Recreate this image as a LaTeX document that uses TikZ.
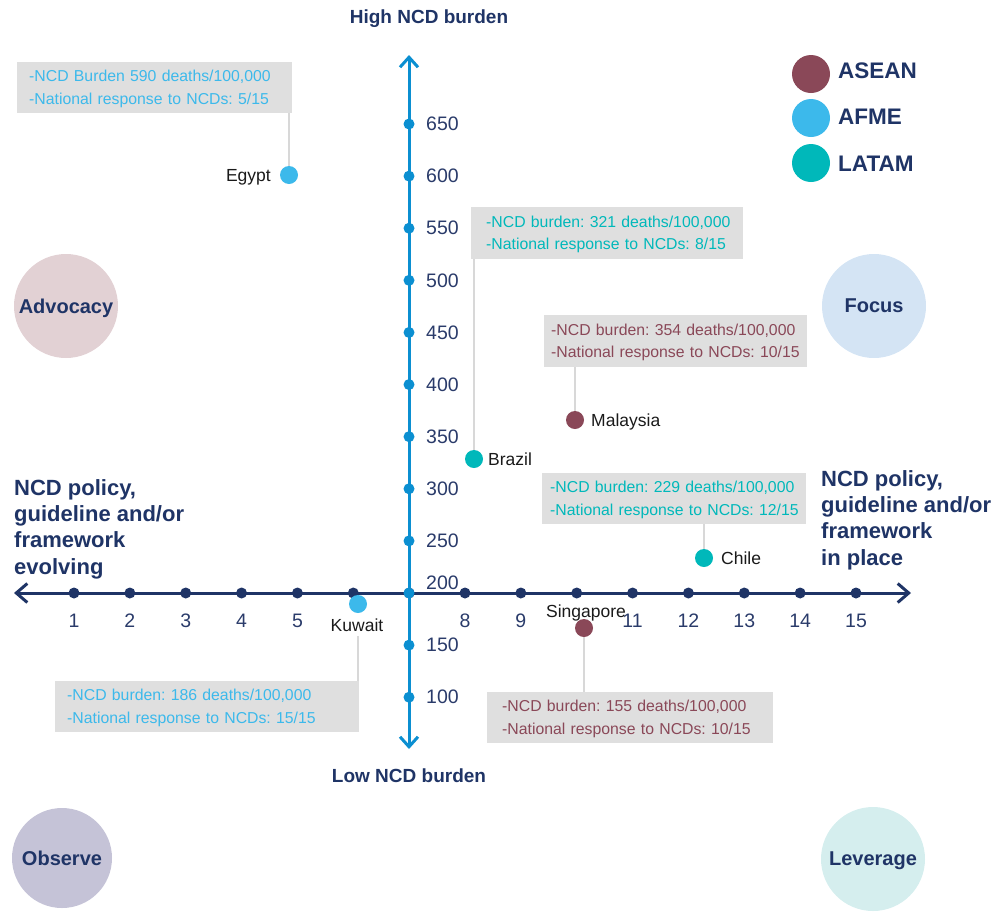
\documentclass[tikz,border=0pt]{standalone}
\usepackage{fontspec}
\setmainfont{Liberation Sans}
\usetikzlibrary{arrows.meta,calc}
\definecolor{navy}{HTML}{1F3466}
\definecolor{numcol}{HTML}{2A3B6A}
\definecolor{axisblue}{HTML}{0B8FD1}
\definecolor{asean}{HTML}{8A4858}
\definecolor{afme}{HTML}{3CB9EB}
\definecolor{latam}{HTML}{00B8BA}
\definecolor{boxgray}{HTML}{DFDFDF}
\definecolor{leadgray}{HTML}{D8D8D8}
\definecolor{cadv}{HTML}{E2D1D4}
\definecolor{cfoc}{HTML}{D4E4F4}
\definecolor{cobs}{HTML}{C5C3D7}
\definecolor{clev}{HTML}{D5EEEE}
\definecolor{ctext}{HTML}{1A1A1A}
\newcommand{\setfs}[2]{\fontsize{#1pt}{#2pt}\selectfont}
\frenchspacing
\begin{document}
\begin{tikzpicture}[x=1pt,y=-1pt,
  tickdot/.style={circle,fill=navy,inner sep=0,minimum size=11},
  vdot/.style={circle,fill=axisblue,inner sep=0,minimum size=11},
  xnum/.style={text=numcol,font={\setfs{19.5}{22}},inner sep=0},
  ynum/.style={text=numcol,font={\setfs{19.5}{22}},inner sep=0,anchor=west},
  hlabel/.style={text=navy,font={\bfseries\setfs{19}{22}},inner sep=0},
  sidelabel/.style={text=navy,font={\bfseries\setfs{22}{26.3}},inner sep=0,align=left,anchor=north west},
  quad/.style={circle,inner sep=0,minimum size=104,text=navy,text depth=0pt,font={\bfseries\setfs{20}{24}}},
  legdot/.style={circle,inner sep=0,minimum size=38},
  legtext/.style={text=navy,font={\bfseries\setfs{22.5}{26}},inner sep=0,anchor=west},
  cdot/.style={circle,inner sep=0,minimum size=18},
  clabel/.style={text=ctext,font={\setfs{17.5}{20}},inner sep=0},
  infobox/.style={fill=boxgray,anchor=north west,inner ysep=0,align=left,font={\setfs{15.8}{22.7}}},
  leader/.style={draw=leadgray,line width=2.5},
  haxis/.style={draw=navy,line width=3,{Straight Barb[length=11pt,width=19pt]}-{Straight Barb[length=11pt,width=19pt]}},
  vaxis/.style={draw=axisblue,line width=3,{Straight Barb[length=10pt,width=18pt]}-{Straight Barb[length=10pt,width=18pt]}}
]
\useasboundingbox (0,0) rectangle (1001,911);

% titles
\node[hlabel] (high) at (429,19) {High NCD burden};
\node[hlabel] (low) at (409,776) {Low NCD burden};

% quadrant circles
\node[quad,fill=cadv] (adv) at (66,306) {Advocacy};
\node[quad,fill=cfoc] (foc) at (874,306) {Focus};
\node[quad,fill=cobs,minimum size=100] (obs) at (62,858) {Observe};
\node[quad,fill=clev] (lev) at (873,859) {Leverage};

% legend
\node[legdot,fill=asean] (lg1) at (811,74) {};
\node[legdot,fill=afme] (lg2) at (811,118) {};
\node[legdot,fill=latam] (lg3) at (811,163) {};
\node[legtext] at (838,71) {ASEAN};
\node[legtext] at (838,117) {AFME};
\node[legtext] at (838,164) {LATAM};

% side labels
\node[sidelabel] (leftlab) at (14,479) {NCD policy,\\guideline and/or\\framework\\evolving};
\node[sidelabel] (rightlab) at (821,470) {NCD policy,\\guideline and/or\\framework\\in place};

% horizontal axis
\coordinate (xl) at (14,593);
\coordinate (xr) at (911,593);
\draw[haxis] (xl) -- (xr);
\foreach \i in {1,...,15} {
  \node[tickdot] (t\i) at ({74+(\i-1)*55.857},593) {};
}
\foreach \i in {1,2,3,4,5,8,9,11,12,13,14,15} {
  \node[xnum] at ({74+(\i-1)*55.857},621) {\i};
}

% vertical axis
\coordinate (vtop) at (409,55);
\coordinate (vbot) at (409,749);
\draw[vaxis] (vbot) -- (vtop);
\node[vdot] (v200) at (409,593) {};
\foreach \v in {100,150,250,300,...,650} {
  \pgfmathsetmacro{\yy}{593-(\v-200)*1.04222}
  \node[vdot] (v\v) at (409,\yy) {};
  \node[ynum] at (426,\yy) {\v};
}
\node[ynum] at (426,583) {200};

% info boxes
\node[infobox,text=afme,inner xsep=12,text width=251,minimum height=51] (egbox) at (17,62)
  {\mbox{\rule{0pt}{14pt}-NCD Burden 590 deaths/100,000}\\\mbox{-National response to NCDs: 5/15}};
\node[infobox,text=latam,inner xsep=15,text width=242,minimum height=52] (brbox) at (471,207)
  {\mbox{\rule{0pt}{14pt}-NCD burden: 321 deaths/100,000}\\\mbox{-National response to NCDs: 8/15}};
\node[infobox,text=asean,inner xsep=7,text width=249,minimum height=52] (mybox) at (544,315)
  {\mbox{\rule{0pt}{14pt}-NCD burden: 354 deaths/100,000}\\\mbox{-National response to NCDs: 10/15}};
\node[infobox,text=latam,inner xsep=8,text width=248,minimum height=51] (clbox) at (542,473)
  {\mbox{\rule{0pt}{14pt}-NCD burden: 229 deaths/100,000}\\\mbox{-National response to NCDs: 12/15}};
\node[infobox,text=asean,inner xsep=15,text width=256,minimum height=51] (sgbox) at (487,692)
  {\mbox{\rule{0pt}{14pt}-NCD burden: 155 deaths/100,000}\\\mbox{-National response to NCDs: 10/15}};
\node[infobox,text=afme,inner xsep=12,text width=280,minimum height=51] (kwbox) at (55,681)
  {\mbox{\rule{0pt}{14pt}-NCD burden: 186 deaths/100,000}\\\mbox{-National response to NCDs: 15/15}};

% country dots
\node[cdot,fill=afme] (eg) at (289,175) {};
\node[cdot,fill=latam] (br) at (474,459) {};
\node[cdot,fill=asean] (my) at (575,420) {};
\node[cdot,fill=latam] (cl) at (704,558) {};
\node[cdot,fill=asean] (sg) at (584,628) {};
\node[cdot,fill=afme] (kw) at (358,604) {};

% country labels
\node[clabel,anchor=base east] (eglab) at (271,181) {Egypt};
\node[clabel,anchor=base west] (brlab) at (488,465) {Brazil};
\node[clabel,anchor=base west] (mylab) at (591,426) {Malaysia};
\node[clabel,anchor=base west] (cllab) at (721,564) {Chile};
\node[clabel,anchor=base] (sglab) at (586,617) {Singapore};
\node[clabel,anchor=base] (kwlab) at (357,631) {Kuwait};

% leaders
\draw[leader] (egbox.south -| eg) -- (eg);
\draw[leader] (brbox.south -| br) -- (br);
\draw[leader] (mybox.south -| my) -- (my);
\draw[leader] (clbox.south -| cl) -- (cl);
\draw[leader] (sg) -- (sgbox.north -| sg);
\draw[leader] ($(kwlab.south -| kw)+(0,5)$) -- (kwbox.north -| kw);
\end{tikzpicture}
\end{document}
